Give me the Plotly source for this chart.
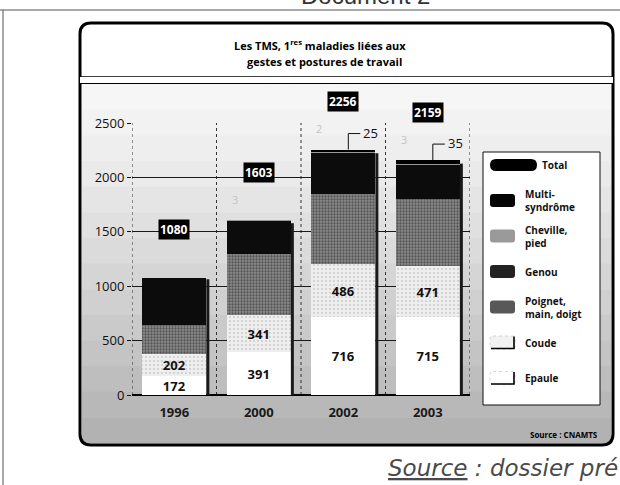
import plotly.graph_objects as go

# ---------------- data ----------------
years = ["1996", "2000", "2002", "2003"]
epaule = [172, 391, 716, 715]
coude = [202, 341, 486, 471]
poignet = [270, 560, 650, 620]
genou = [436, 308, 377, 315]
cheville = [0, 3, 2, 3]
multi = [0, 0, 25, 35]
totals = [1080, 1603, 2256, 2159]
y_ticks = [0, 500, 1000, 1500, 2000, 2500]
legend_labels = ["Total", "Multi-<br>syndrôme", "Cheville,<br>pied", "Genou",
                 "Poignet,<br>main, doigt", "Coude", "Epaule"]

# ---------------- geometry helpers ----------------
W, H = 620, 485
L, R, T, B = 132, 150, 123, 90
PW, PH = W - L - R, H - T - B
FONT = "Open Sans"


def X(px):
    return (px - L) / PW


def Y(py):
    return (H - B - py) / PH


def rrect(x0, y0, x1, y1, r):
    p = [
        f"M{X(x0 + r)},{Y(y0)}", f"L{X(x1 - r)},{Y(y0)}", f"Q{X(x1)},{Y(y0)} {X(x1)},{Y(y0 + r)}",
        f"L{X(x1)},{Y(y1 - r)}", f"Q{X(x1)},{Y(y1)} {X(x1 - r)},{Y(y1)}",
        f"L{X(x0 + r)},{Y(y1)}", f"Q{X(x0)},{Y(y1)} {X(x0)},{Y(y1 - r)}",
        f"L{X(x0)},{Y(y0 + r)}", f"Q{X(x0)},{Y(y0)} {X(x0 + r)},{Y(y0)}", "Z"]
    return " ".join(p)


def txt(px, py, text, size, color="#000", xa="center", ya="middle", family=FONT, align="center"):
    return dict(x=X(px), y=Y(py), xref="paper", yref="paper", xanchor=xa, yanchor=ya,
                showarrow=False, text=text, align=align,
                font=dict(family=family, size=size, color=color))


xs = list(range(len(years)))
BW = 0.76

fig = go.Figure()


def add(name, vals, color, pattern=None, text=False):
    marker = dict(color=color, line=dict(width=0))
    if pattern:
        marker["pattern"] = pattern
    kw = {}
    if text:
        kw = dict(text=[f"<b>{v}</b>" for v in vals], textposition="inside",
                  insidetextanchor="middle",
                  textfont=dict(family=FONT, size=13, color="#111"))
    fig.add_trace(go.Bar(x=xs, y=vals, name=name, width=BW, marker=marker,
                         showlegend=False, hoverinfo="skip", **kw))


add("Epaule", epaule, "#ffffff", text=True)
add("Coude", coude, "#eeeeee",
    dict(shape=".", fgcolor="#a8a8a8", bgcolor="#eeeeee", size=4, solidity=0.2), text=True)
add("Poignet, main, doigt", poignet, "#777777",
    dict(shape=".", fgcolor="#1e1e1e", bgcolor="#8a8a8a", size=3, solidity=0.45))
add("Genou", genou, "#0c0c0c")
add("Cheville, pied", cheville, "#999999")
add("Multi-syndrôme", multi, "#000000")

shapes = []
annotations = []

# panel background bands (stipple gradient approximation)
top_px, bot_px, nb = 84, 443, 14
for k in range(nb):
    y0 = top_px + (bot_px - top_px) * k / nb
    y1 = top_px + (bot_px - top_px) * (k + 1) / nb
    g = int(246 - (246 - 178) * (k / (nb - 1)) ** 1.2)
    shapes.append(dict(type="rect", xref="paper", yref="paper", x0=X(82), x1=X(611),
                       y0=Y(y1 + 0.5), y1=Y(y0), fillcolor=f"rgb({g},{g},{g})",
                       line=dict(width=0), layer="below"))

# vertical dotted separators
for i in range(-1, len(years)):
    shapes.append(dict(type="line", xref="x", yref="y", x0=i + 0.5, x1=i + 0.5,
                       y0=0, y1=y_ticks[-1], line=dict(color="#333", width=1, dash="dot"),
                       layer="below"))

# bar drop shadows
for i, t in enumerate(totals):
    shapes.append(dict(type="rect", xref="x", yref="y", xsizemode="pixel", xanchor=i + BW / 2,
                       x0=0, x1=3, y0=0, y1=t * 0.985, fillcolor="#1a1a1a", line=dict(width=0)))
    shapes.append(dict(type="rect", xref="x", yref="y", ysizemode="pixel", yanchor=0,
                       x0=i - BW / 2, x1=i + BW / 2 + 0.035, y0=-4, y1=0,
                       fillcolor="#1a1a1a", line=dict(width=0)))

# total pills
for i, t in enumerate(totals):
    annotations.append(dict(x=i, y=t, xref="x", yref="y", yshift=48, showarrow=False,
                            xanchor="center", yanchor="middle",
                            text=f"<b>{t}</b>", bgcolor="#000", borderpad=1,
                            font=dict(family=FONT, size=12, color="#fff")))

# faint cheville labels
for i, v in enumerate(cheville):
    if v > 0:
        annotations.append(dict(x=i, y=totals[i], xref="x", yref="y", xshift=-24, yshift=21,
                                xanchor="center", yanchor="middle",
                                showarrow=False, text=str(v),
                                font=dict(family=FONT, size=11, color="#c4c4c4")))

# multi-syndrome pointer labels
for i, v in enumerate(multi):
    if v > 0:
        xa = i + 0.06
        shapes.append(dict(type="line", xref="x", yref="y", xsizemode="pixel", ysizemode="pixel",
                           xanchor=xa, yanchor=totals[i], x0=0, x1=0, y0=0, y1=16,
                           line=dict(color="#111", width=1)))
        shapes.append(dict(type="line", xref="x", yref="y", xsizemode="pixel", ysizemode="pixel",
                           xanchor=xa, yanchor=totals[i], x0=0, x1=12, y0=16, y1=16,
                           line=dict(color="#111", width=1)))
        annotations.append(dict(x=xa, y=totals[i], xref="x", yref="y", xshift=13, yshift=17,
                                xanchor="left", yanchor="middle", showarrow=False, text=str(v),
                                font=dict(family=FONT, size=13, color="#111")))

# document frame
shapes.append(dict(type="line", xref="paper", yref="paper", x0=X(0), x1=X(620), y0=Y(10), y1=Y(10),
                   line=dict(color="#555", width=1)))
shapes.append(dict(type="line", xref="paper", yref="paper", x0=X(3), x1=X(3), y0=Y(10), y1=Y(485),
                   line=dict(color="#555", width=1)))

# boxes
shapes.append(dict(type="path", xref="paper", yref="paper", path=rrect(80, 23, 613, 445, 11),
                   line=dict(color="#000", width=3), fillcolor="rgba(0,0,0,0)"))
shapes.append(dict(type="line", xref="paper", yref="paper", x0=X(80), x1=X(613), y0=Y(77), y1=Y(77),
                   line=dict(color="#000", width=1.5)))
shapes.append(dict(type="line", xref="paper", yref="paper", x0=X(80), x1=X(613), y0=Y(83), y1=Y(83),
                   line=dict(color="#000", width=2)))
shapes.append(dict(type="rect", xref="paper", yref="paper", x0=X(80), x1=X(613), y0=Y(83), y1=Y(77),
                   fillcolor="#fff", line=dict(width=0)))

# legend box
shapes.append(dict(type="rect", xref="paper", yref="paper", x0=X(483), x1=X(600), y0=Y(405), y1=Y(152),
                   fillcolor="#fff", line=dict(color="#111", width=1)))
swatch_fill = ["#000", "#050505", "#9a9a9a", "#222", "#585858", "#f2f2f2", "#ffffff"]
for k, lab in enumerate(legend_labels):
    yc = 165 + k * 35.5
    if k == 0:
        shapes.append(dict(type="path", xref="paper", yref="paper",
                           path=rrect(490, yc - 6, 537, yc + 6, 6), fillcolor="#000",
                           line=dict(width=0)))
        tx = 540
    else:
        shapes.append(dict(type="path", xref="paper", yref="paper",
                           path=rrect(490, yc - 6.5, 515, yc + 6.5, 3), fillcolor=swatch_fill[k],
                           line=dict(width=0)))
        if k >= 5:
            shapes.append(dict(type="path", xref="paper", yref="paper",
                               path=rrect(490, yc - 6.5, 515, yc + 6.5, 3),
                               line=dict(color="#bbb", width=0.6, dash="dot")))
            shapes.append(dict(type="path", xref="paper", yref="paper",
                               path=f"M{X(491)},{Y(yc + 6)} L{X(514)},{Y(yc + 6)} L{X(514)},{Y(yc - 6)}",
                               line=dict(color="#000", width=1.6)))
        tx = 523
    annotations.append(txt(tx, yc, f"<b>{lab}</b>", 10, "#111", xa="left", align="left"))

# titles and sources
annotations += [
    txt(320, 45, "<b>Les TMS, 1<sup>res</sup> maladies liées aux</b>", 11),
    txt(324, 62, "<b>gestes et postures de travail</b>", 11),
    txt(600, 434, "<b>Source : CNAMTS</b>", 8, xa="right"),
    txt(386, 468, "<i><u>Source</u> : dossier pré</i>", 23, "#4a4a4a", xa="left",
        family="DejaVu Sans"),
    txt(365, 11, "Document 2", 24, "#333", ya="bottom", family="Liberation Sans"),
]

fig.update_layout(
    width=W, height=H, margin=dict(l=L, r=R, t=T, b=B),
    paper_bgcolor="#ffffff", plot_bgcolor="rgba(0,0,0,0)",
    barmode="stack", bargap=0.24,
    uniformtext=dict(minsize=13, mode="show"),
    shapes=shapes, annotations=annotations,
    xaxis=dict(range=[-0.5, len(years) - 0.5], tickvals=xs,
               ticktext=[f"<b>{y}</b>" for y in years], showgrid=False, zeroline=False,
               ticks="", ticklabelstandoff=8,
               tickfont=dict(family=FONT, size=13, color="#1a1a1a")),
    yaxis=dict(range=[0, y_ticks[-1]], tickvals=y_ticks, showgrid=True, gridcolor="#1a1a1a",
               gridwidth=1, zeroline=True, zerolinecolor="#000", zerolinewidth=1.5,
               ticks="outside", ticklen=4, tickcolor="#111",
               tickfont=dict(family=FONT, size=13, color="#111")),
)

fig.write_html("out.html", config={"displayModeBar": False},
               post_script="document.body.style.margin='0px';"
                           "document.body.style.overflow='hidden';")
